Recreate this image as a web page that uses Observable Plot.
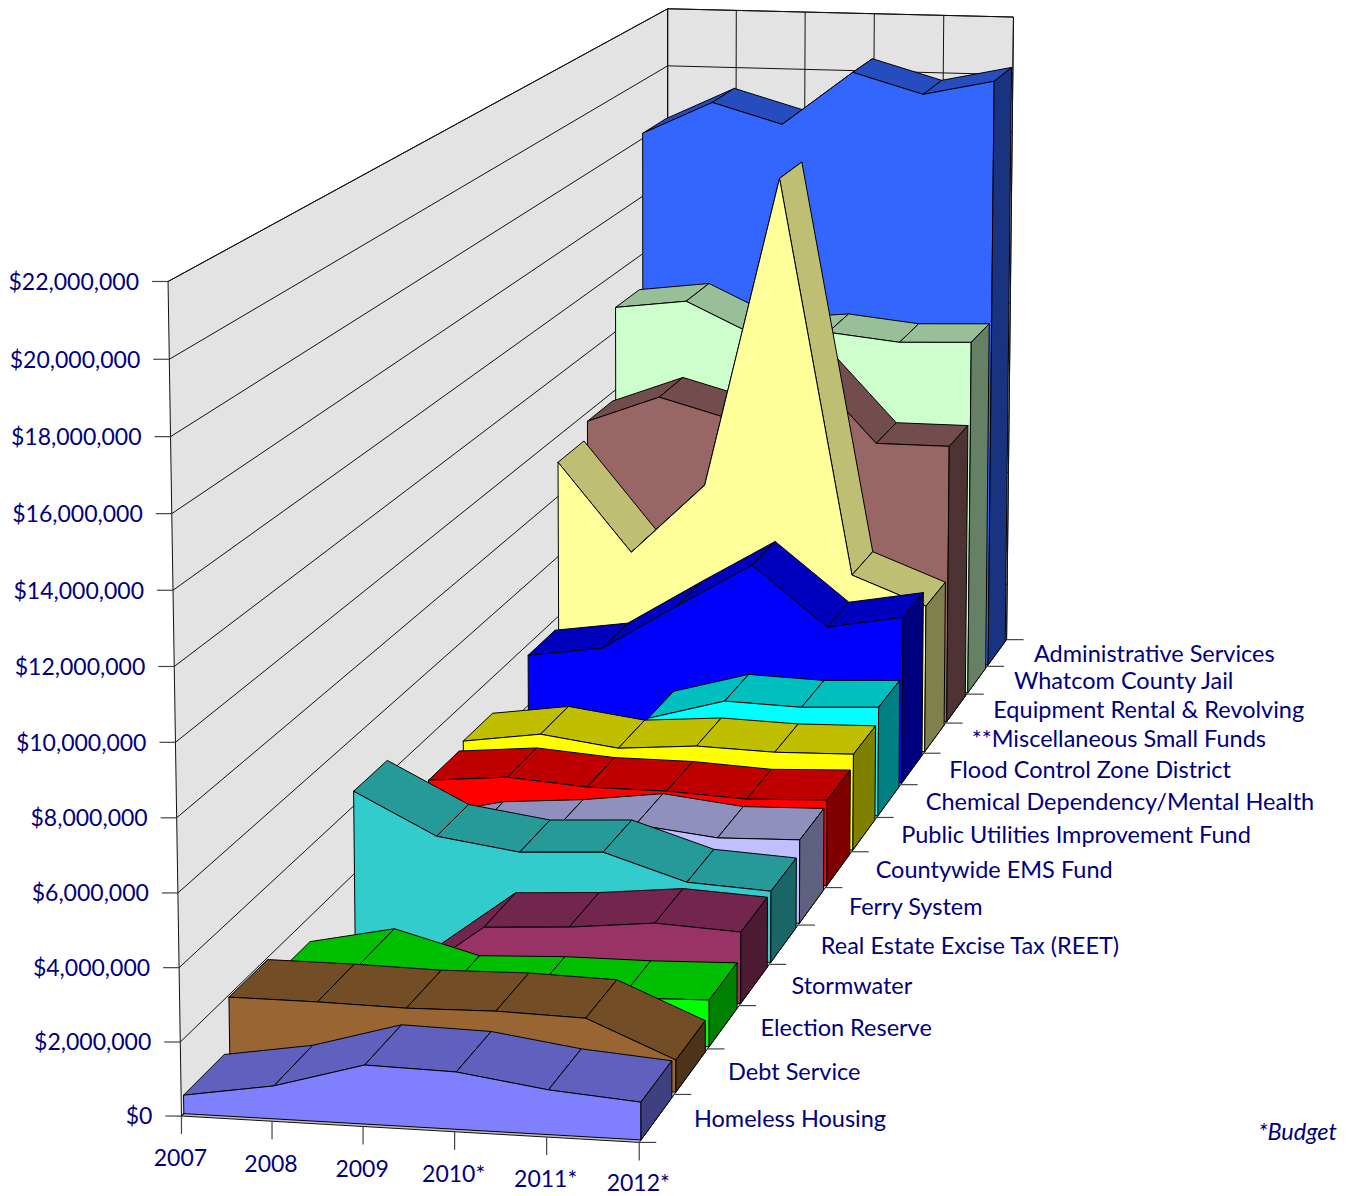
<!DOCTYPE html>
<html><head><meta charset="utf-8"><style>body{margin:0;background:#fff}svg{display:block}</style>
<script src="https://cdn.jsdelivr.net/npm/d3@7"></script>
<script src="https://cdn.jsdelivr.net/npm/@observablehq/plot@0.6"></script>
</head><body><div id="chart"></div>
<script>
// Fund expenditures by year, front row first, in millions of dollars.
const years = ["2007", "2008", "2009", "2010*", "2011*", "2012*"];
const valueTicks = [0, 2e6, 4e6, 6e6, 8e6, 10e6, 12e6, 14e6, 16e6, 18e6, 20e6, 22e6];
const funds = ["Homeless Housing", "Debt Service", "Election Reserve", "Stormwater", "Real Estate Excise Tax (REET)", "Ferry System", "Countywide EMS Fund", "Public Utilities Improvement Fund", "Chemical Dependency/Mental Health", "Flood Control Zone District", "**Miscellaneous Small Funds", "Equipment Rental & Revolving", "Whatcom County Jail", "Administrative Services"];
const homeless = [0.50, 0.89, 1.59, 1.54, 1.20, 1.01];
const debt = [1.94, 1.94, 1.90, 1.95, 1.89, 0.88];
const election = [1.28, 1.78, 1.13, 1.23, 1.24, 1.31];
const stormwater = [0, 0.01, 1.81, 1.94, 2.18, 2.05];
const reet = [4.43, 3.22, 2.87, 2.99, 2.23, 2.09];
const ferry = [1.70, 2.24, 2.42, 2.72, 2.44, 2.50];
const ems = [2.66, 2.87, 2.68, 2.67, 2.54, 2.63];
const utilities = [2.85, 3.18, 2.85, 3.03, 2.95, 3.00];
const chemical = [0, 0, 2.79, 3.45, 3.36, 3.47];
const flood = [3.64, 3.98, 5.46, 6.89, 4.98, 5.40];
const misc = [9.13, 6.23, 8.55, 18.67, 5.77, 4.84];
const equipment = [9.70, 10.60, 9.94, 11.87, 9.31, 9.30];
const jail = [12.83, 13.12, 12.00, 12.22, 11.96, 12.04];
const admin = [18.18, 19.31, 18.62, 20.47, 19.78, 20.29];
const series = [homeless, debt, election, stormwater, reet, ferry, ems, utilities, chemical, flood, misc, equipment, jail, admin];
const faceColors = ["#8080FF", "#996633", "#00FF00", "#993366", "#33CCCC", "#C0C0FF", "#FF0000", "#FFFF00", "#00FFFF", "#0000FF", "#FFFF99", "#996666", "#CCFFCC", "#3366FF"];

const width = 1351, height = 1196, maxValue = 22e6, navy = "#000080";
const labelFont = {fontFamily: "Lato, 'Noto Sans', sans-serif", fontSize: 23.5, fill: navy};
const numberFont = {...labelFont, fontSize: 23};

// Perspective camera: known cube positions (year, depth, value, each 0..1) and where they land on the page.
const cameraAnchors = [[0,0,0,182,1115.5],[.2,0,0,272,1121],[.4,0,0,362,1127],[.6,0,0,453,1132],[.8,0,0,545,1136],[1,0,0,640,1141],
  [1,.5,0,851,852],[1,1,0,1006,638.5],[0,0,1,167,281],[0,0,.5,175,703],[0,1,1,666,8.5],[.2,1,1,737,10.5],[.4,1,1,804,11],[.6,1,1,875,13],[.8,1,1,943,15],[1,1,1,1013,17],[0,1,20/22,667,65]];
function solveCamera() {
  const n = 11, A = Array.from({length: n}, () => Array(n + 1).fill(0));
  const add = (r, b) => { for (let i = 0; i < n; i++) { for (let j = 0; j < n; j++) A[i][j] += r[i] * r[j]; A[i][n] += r[i] * b; } };
  for (const [i, d, v, x, y] of cameraAnchors) {
    add([i, d, v, 1, 0, 0, 0, 0, -x * i, -x * d, -x * v], x);
    add([0, 0, 0, 0, i, d, v, 1, -y * i, -y * d, -y * v], y);
  }
  for (let c = 0; c < n; c++) {
    let p = c;
    for (let r = c; r < n; r++) if (Math.abs(A[r][c]) > Math.abs(A[p][c])) p = r;
    [A[c], A[p]] = [A[p], A[c]];
    for (let r = 0; r < n; r++) if (r !== c) { const f = A[r][c] / A[c][c]; for (let k = c; k <= n; k++) A[r][k] -= f * A[c][k]; }
  }
  return A.map((r, i) => r[n] / r[i]);
}
const m = solveCamera();
const project = (i, d, v) => {
  const w = m[8] * i + m[9] * d + m[10] * v + 1;
  return [(m[0] * i + m[1] * d + m[2] * v + m[3]) / w, (m[4] * i + m[5] * d + m[6] * v + m[7]) / w];
};
const shade = (color, k) => { const c = d3.rgb(color); return d3.rgb(c.r * k, c.g * k, c.b * k).formatHex(); };

// Polygons in painter's order, back to front.
const polygons = [];
let polygonId = 0;
function addPolygon(list, paint, corners) {
  const id = polygonId++;
  for (const [i, d, v] of [...corners, corners[0]]) {
    const [px, py] = project(i, d, v);
    list.push({id, paint, px, py});
  }
}
const wallColor = "#E3E3E3", floorColor = "#BDBDBD";
addPolygon(polygons, wallColor, [[0,0,0],[0,1,0],[0,1,1],[0,0,1]]);
addPolygon(polygons, wallColor, [[0,1,0],[1,1,0],[1,1,1],[0,1,1]]);
addPolygon(polygons, floorColor, [[0,0,0],[1,0,0],[1,1,0],[0,1,0]]);

// Gridlines run along the side wall and on across the back wall.
const wallLines = [];
for (const t of valueTicks) {
  const v = t / maxValue, a = project(0, 0, v), b = project(0, 1, v), c = project(1, 1, v);
  wallLines.push({x1: a[0], y1: a[1], x2: b[0], y2: b[1]}, {x1: b[0], y1: b[1], x2: c[0], y2: c[1]});
}
years.forEach((_, j) => {
  const a = project(j / 5, 1, 0), b = project(j / 5, 1, 1);
  wallLines.push({x1: a[0], y1: a[1], x2: b[0], y2: b[1]});
});

// Each fund is a slab: top strips, then the front face, then the right end.
const slabPolygons = [];
for (let k = funds.length - 1; k >= 0; k--) {
  const vals = series[k].map(v => v * 1e6 / maxValue);
  const front = (k + 0.05) / funds.length, back = (k + 0.93) / funds.length;
  const face = faceColors[k];
  for (let j = 0; j < 5; j++) {
    const a = j / 5, b = (j + 1) / 5;
    addPolygon(slabPolygons, shade(face, 0.75), [[a, front, vals[j]], [b, front, vals[j + 1]], [b, back, vals[j + 1]], [a, back, vals[j]]]);
  }
  addPolygon(slabPolygons, face, [[0, front, 0], ...vals.map((v, j) => [j / 5, front, v]), [1, front, 0]]);
  addPolygon(slabPolygons, shade(face, 0.5), [[1, front, 0], [1, back, 0], [1, back, vals[5]], [1, front, vals[5]]]);
}

// Axis ticks and labels anchored on the projected cube edges.
const valueAxis = valueTicks.map(t => {
  const [x, y] = project(0, 0, t / maxValue);
  return {x, y, label: t === 0 ? "$0" : d3.format("$,")(t)};
});
const yearAxis = years.map((label, j) => {
  const [x, y] = project(j / 5, 0, 0);
  return {x, y, label};
});
const depthTicks = d3.range(funds.length + 1).map(k => {
  const [x, y] = project(1, k / funds.length, 0);
  return {x, y};
});
const fundAxis = funds.map((label, k) => {
  const [x, y] = project(1, (k + 0.5) / funds.length, 0);
  return {x, y, label};
});
const tickStyle = {stroke: "#444", strokeWidth: 1.2};

const chart = Plot.plot({
  width, height, margin: 0,
  x: {domain: [0, width], range: [0, width], axis: null},
  y: {domain: [0, height], range: [0, height], axis: null},
  color: {type: "identity"},
  style: {background: "#fff"},
  marks: [
    Plot.line(polygons, {x: "px", y: "py", z: "id", fill: "paint", stroke: "#111", strokeWidth: 1}),
    Plot.link(wallLines, {x1: "x1", y1: "y1", x2: "x2", y2: "y2", stroke: "#111", strokeWidth: 1}),
    Plot.line(slabPolygons, {x: "px", y: "py", z: "id", fill: "paint", stroke: "#000", strokeWidth: 1, strokeLinejoin: "round"}),
    Plot.link(valueAxis, {x1: "x", y1: "y", x2: d => d.x - 16, y2: "y", ...tickStyle}),
    Plot.link(yearAxis, {x1: "x", y1: "y", x2: "x", y2: d => d.y + 18, ...tickStyle}),
    Plot.link(depthTicks, {x1: "x", y1: "y", x2: d => d.x + 17, y2: "y", ...tickStyle}),
    Plot.text(valueAxis, {x: d => d.x - 29, y: d => d.y + 1, text: "label", textAnchor: "end", ...numberFont}),
    // The last year label stays just inside the bottom of the page.
    Plot.text(yearAxis, {x: d => d.x - 1, y: d => Math.min(d.y + 43, height - 12.5), text: "label", ...numberFont}),
    Plot.text(fundAxis, {x: d => d.x + 37, y: d => d.y + 1.5, text: "label", textAnchor: "start", ...labelFont}),
    Plot.text(["*Budget"], {x: 1297, y: 1132, text: d => d, fontStyle: "italic", ...labelFont})
  ]
});
document.getElementById("chart").append(chart);
</script></body></html>
